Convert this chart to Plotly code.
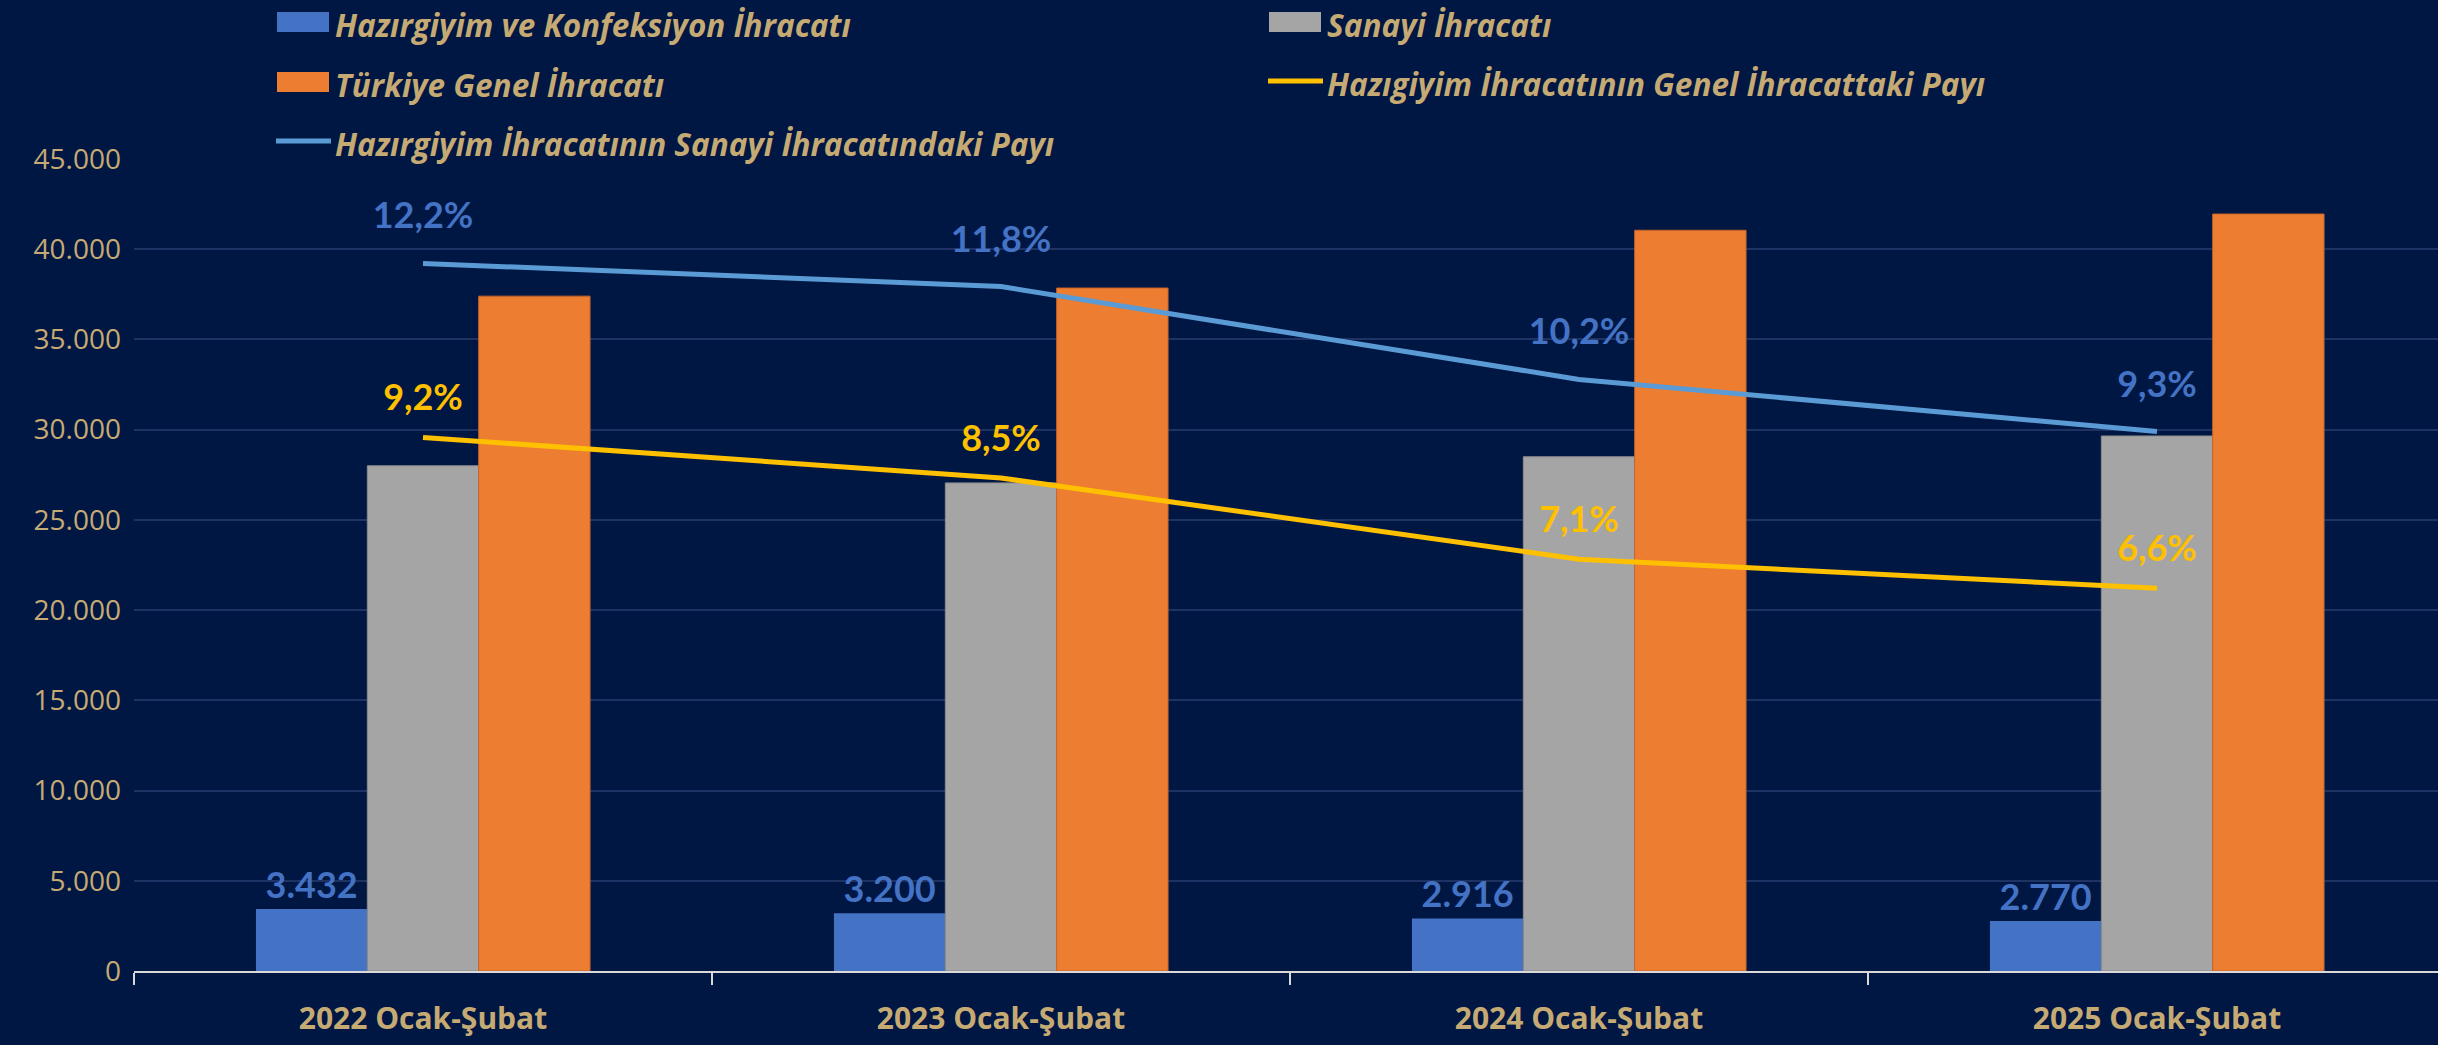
import plotly.graph_objects as go

# ---------------- data ----------------
categories = ["2022 Ocak-Şubat", "2023 Ocak-Şubat", "2024 Ocak-Şubat", "2025 Ocak-Şubat"]
hazirgiyim = [3432, 3200, 2916, 2770]           # Hazırgiyim ve Konfeksiyon İhracatı
sanayi = [28000, 27050, 28500, 29650]           # Sanayi İhracatı
genel = [37400, 37850, 41050, 41950]            # Türkiye Genel İhracatı
pay_genel = [0.092, 0.085, 0.071, 0.066]        # Hazıgiyim İhracatının Genel İhracattaki Payı
pay_sanayi = [0.122, 0.118, 0.102, 0.093]       # Hazırgiyim İhracatının Sanayi İhracatındaki Payı
y_ticks = [0, 5000, 10000, 15000, 20000, 25000, 30000, 35000, 40000, 45000]
names = [
    "Hazırgiyim ve Konfeksiyon İhracatı",
    "Sanayi İhracatı",
    "Türkiye Genel İhracatı",
    "Hazıgiyim İhracatının Genel İhracattaki Payı",
    "Hazırgiyim İhracatının Sanayi İhracatındaki Payı",
]

# ---------------- style ----------------
BG = "#001743"
GRID = "#1E3263"
TAN = "#C6AA74"
C_BLUE = "#4472C4"
C_GRAY = "#A5A5A5"
C_ORANGE = "#ED7D31"
C_YELLOW = "#FFC000"
C_LBLUE = "#5B9BD5"
FONT = "Lato"
FONT2 = "Open Sans"

W, H = 2438, 1045
PL, PT, PB = 134, 159, 971

fig = go.Figure()

fig.add_trace(go.Bar(
    x=categories, y=hazirgiyim, name=names[0], marker=dict(color=C_BLUE, line=dict(width=0)),
    texttemplate="%{y:,.0f}", textposition="outside", constraintext="none", cliponaxis=False,
    textfont=dict(family=FONT, size=36, color=C_BLUE, weight="bold"), showlegend=False))
fig.add_trace(go.Bar(
    x=categories, y=sanayi, name=names[1],
    marker=dict(color=C_GRAY, line=dict(width=1, color="#8A8A8A")), showlegend=False))
fig.add_trace(go.Bar(
    x=categories, y=genel, name=names[2],
    marker=dict(color=C_ORANGE, line=dict(width=1, color="#C8652A")), showlegend=False))

fig.add_trace(go.Scatter(
    x=categories, y=pay_genel, name=names[3], yaxis="y2", mode="lines+markers+text",
    line=dict(color=C_YELLOW, width=5), marker=dict(size=28, opacity=0),
    texttemplate="%{y:.1%}", textposition="top center", cliponaxis=False,
    textfont=dict(family=FONT, size=36, color=C_YELLOW, weight="bold"), showlegend=False))
fig.add_trace(go.Scatter(
    x=categories, y=pay_sanayi, name=names[4], yaxis="y2", mode="lines+markers+text",
    line=dict(color=C_LBLUE, width=5), marker=dict(size=40, opacity=0),
    texttemplate="%{y:.1%}", textposition="top center", cliponaxis=False,
    textfont=dict(family=FONT, size=36, color=C_BLUE, weight="bold"), showlegend=False))

# ---------------- manual legend (layout decoration) ----------------
def px(x):
    return (x - PL) / (W - PL)


def py(y):
    return (PB - y) / (PB - PT)


legend_items = [
    ("rect", C_BLUE, 277, 22),
    ("rect", C_GRAY, 1269, 22),
    ("rect", C_ORANGE, 277, 82),
    ("line", C_YELLOW, 1269, 81),
    ("line", C_LBLUE, 277, 141),
]
shapes = []
annotations = []
for (kind, col, x0, yc), name in zip(legend_items, names):
    if kind == "rect":
        shapes.append(dict(type="rect", xref="paper", yref="paper",
                           x0=px(x0), x1=px(x0 + 52), y0=py(yc + 10), y1=py(yc - 10),
                           fillcolor=col, line=dict(width=0), layer="above"))
    else:
        shapes.append(dict(type="line", xref="paper", yref="paper",
                           x0=px(x0 - 1), x1=px(x0 + 54), y0=py(yc), y1=py(yc),
                           line=dict(color=col, width=5), layer="above"))
    annotations.append(dict(text=name, xref="paper", yref="paper", x=px(x0 + 56), y=py(yc + 2),
                            xanchor="left", yanchor="middle", showarrow=False,
                            font=dict(family=FONT2, size=31.5, color=TAN, weight="bold", style="italic")))

fig.update_layout(
    width=W, height=H,
    paper_bgcolor=BG, plot_bgcolor=BG,
    margin=dict(l=PL, r=0, t=PT, b=H - PB, pad=0),
    barmode="group", bargap=0.422, bargroupgap=0,
    separators=",.",
    showlegend=False,
    shapes=shapes, annotations=annotations,
    xaxis=dict(
        type="category", range=[-0.5, -0.5 + (W - PL) / 578.0],
        showline=True, linecolor="#D9D9D9", linewidth=2,
        ticks="outside", tickson="boundaries", ticklen=12, tickcolor="#D9D9D9", tickwidth=2,
        showgrid=False, zeroline=False,
        tickfont=dict(family=FONT2, size=30, color=TAN, weight="bold"),
        ticklabelstandoff=20,
    ),
    yaxis=dict(
        range=[0, 45000], tickvals=y_ticks, tickformat=",.0f",
        showgrid=True, gridcolor=GRID, gridwidth=2, zeroline=False,
        showline=False, ticks="",
        tickfont=dict(family=FONT2, size=28, color=TAN),
        ticklabelstandoff=12,
    ),
    yaxis2=dict(
        range=[0, 0.14], overlaying="y", side="right", visible=False,
        showgrid=False, zeroline=False,
    ),
)

fig.write_html(
    "out.html",
    config={"displayModeBar": False},
    post_script="document.body.style.margin='0';document.body.style.overflow='hidden';"
                "document.body.style.background='" + BG + "';",
)
